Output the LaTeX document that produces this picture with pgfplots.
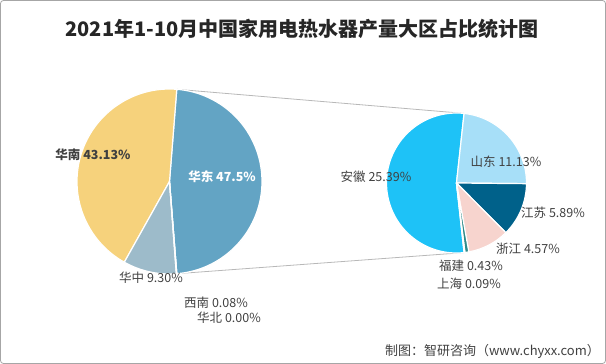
\documentclass[border=0pt]{standalone}
\usepackage{pgfplots}
\usepackage{pgfplotstable}
\pgfplotsset{compat=1.18}
\usepackage{fontspec}
\setmainfont{Noto Sans CJK SC}

\definecolor{cHD}{HTML}{63A4C4}
\definecolor{cHN}{HTML}{F6D27C}
\definecolor{cHZ}{HTML}{9DBBCA}
\definecolor{cXN}{HTML}{7F7F7F}
\definecolor{cHB}{HTML}{BFBFBF}
\definecolor{cAH}{HTML}{1EC2F7}
\definecolor{cSD}{HTML}{A7DFF8}
\definecolor{cJS}{HTML}{00618A}
\definecolor{cZJ}{HTML}{F7D4CE}
\definecolor{cFJ}{HTML}{2E8A8A}
\definecolor{cSH}{HTML}{A0A0A0}
\definecolor{txt}{HTML}{404040}

% first pie (share of all regions, %)
\pgfplotstableread[col sep=comma]{
value,color
47.5,cHD
43.13,cHN
9.30,cHZ
0.08,cXN
0.00,cHB
}\leftdata
% second pie (breakdown of East China, %)
\pgfplotstableread[col sep=comma]{
value,color
25.39,cAH
11.13,cSD
5.89,cJS
4.57,cZJ
0.43,cFJ
0.09,cSH
}\rightdata

% #1 table, #2 cx, #3 cy, #4 radius, #5 start angle, #6 direction, #7 total
\newcommand\drawpie[7]{%
  \pgfplotstablegetrowsof{#1}%
  \pgfmathtruncatemacro\lastrow{\pgfplotsretval-1}%
  \xdef\cumangle{#5}%
  \foreach \i in {0,...,\lastrow}{%
    \pgfplotstablegetelem{\i}{value}\of{#1}\let\pieval\pgfplotsretval
    \pgfplotstablegetelem{\i}{color}\of{#1}\let\piecol\pgfplotsretval
    \pgfmathsetmacro\pieA{\cumangle}%
    \pgfmathsetmacro\pieB{\cumangle+(#6)*(\pieval/(#7))*360}%
    \edef\temp{\noexpand\filldraw[fill=\piecol,draw=white,line width=1.2pt,line join=round] (axis cs:#2,#3) -- ++(\pieA:#4pt) arc[start angle=\pieA,end angle=\pieB,radius=#4pt] -- cycle;}%
    \temp
    \xdef\cumangle{\pieB}%
  }%
}

\begin{document}
\begin{tikzpicture}
\begin{axis}[width=606pt,height=364pt,scale only axis,
  xmin=0,xmax=606,ymin=0,ymax=364,y dir=reverse,hide axis,clip=false]
\path (axis cs:0,0) rectangle (axis cs:606,364);
\draw[rounded corners=3pt,draw=black!35,line width=0.8pt] (axis cs:0.5,0.5) rectangle (axis cs:605.5,363.5);

% connector lines
\addplot[draw=black!28,line width=0.8pt] coordinates {(176.8,89.3) (464.1,113.4)};
\addplot[draw=black!28,line width=0.8pt] coordinates {(176.8,273.7) (464.1,252.6)};

\drawpie{\leftdata}{169.5}{181.5}{92.5}{-85.5}{1}{100}
\drawpie{\rightdata}{456.5}{183}{70}{-83.78}{-1}{47.5}

% title
\node[font=\bfseries\fontsize{20}{24}\selectfont,text=black!85] at (axis cs:302,29) {2021年1-10月中国家用电热水器产量大区占比统计图};

% labels, first pie
\node[font=\bfseries\fontsize{12.5}{14}\selectfont,text=white] at (axis cs:222,177) {华东 47.5\%};
\node[font=\bfseries\fontsize{12.5}{14}\selectfont,text=txt] at (axis cs:93,155) {华南 43.13\%};
\node[font=\fontsize{12.5}{14}\selectfont,text=txt] at (axis cs:151,278) {华中 9.30\%};
\node[font=\fontsize{12.5}{14}\selectfont,text=txt] at (axis cs:216,303) {西南 0.08\%};
\node[font=\fontsize{12.5}{14}\selectfont,text=txt] at (axis cs:229,318) {华北 0.00\%};

% labels, second pie
\node[font=\fontsize{12.5}{14}\selectfont,text=txt] at (axis cs:376,177) {安徽 25.39\%};
\node[font=\fontsize{12.5}{14}\selectfont,text=txt] at (axis cs:506,162) {山东 11.13\%};
\node[font=\fontsize{12.5}{14}\selectfont,text=txt] at (axis cs:553,213) {江苏 5.89\%};
\node[font=\fontsize{12.5}{14}\selectfont,text=txt] at (axis cs:528,249) {浙江 4.57\%};
\node[font=\fontsize{12.5}{14}\selectfont,text=txt] at (axis cs:471,266) {福建 0.43\%};
\node[font=\fontsize{12.5}{14}\selectfont,text=txt] at (axis cs:469,284) {上海 0.09\%};

% source
\node[font=\fontsize{13}{15}\selectfont,text=txt,anchor=east,inner sep=0pt] at (axis cs:600,351) {制图：智研咨询（www.chyxx.com）};
\end{axis}
\end{tikzpicture}
\end{document}
